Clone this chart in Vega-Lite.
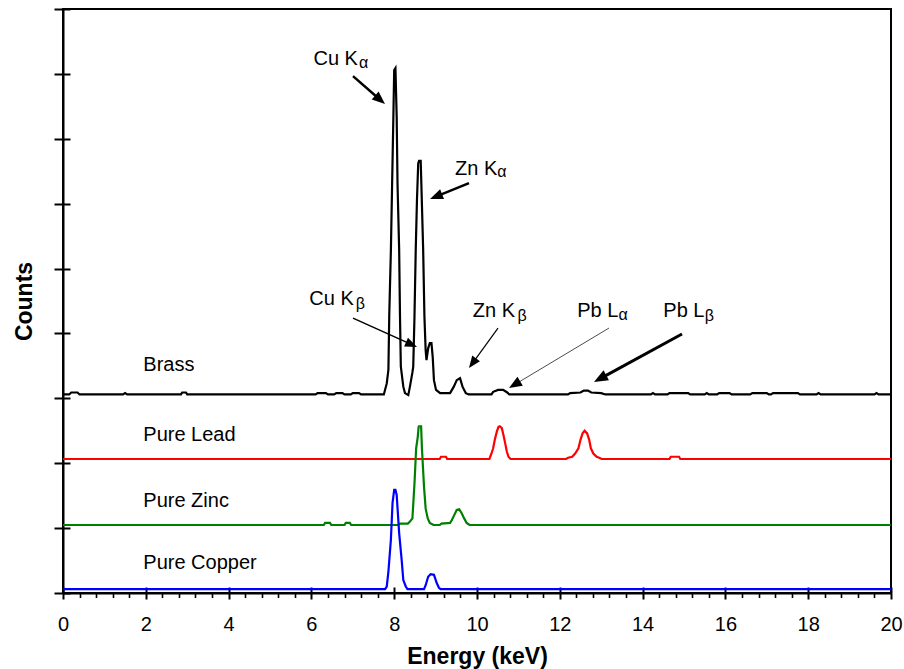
{
  "$schema": "https://vega.github.io/schema/vega-lite/v6.json",
  "width": 828,
  "height": 584,
  "autosize": {"type": "none"},
  "padding": {"left": 63, "top": 9, "right": 13, "bottom": 76},
  "background": "white",
  "config": {
    "view": {"stroke": "black", "strokeWidth": 2},
    "font": "Liberation Sans",
    "axis": {"grid": false, "domainColor": "black", "tickColor": "black", "labelColor": "black", "titleColor": "black", "labelFont": "Liberation Sans", "titleFont": "Liberation Sans"}
  },
  "resolve": {"axis": {"x": "independent", "y": "independent"}},
  "layer": [
    {
      "data": {"values": [
        {"series":"Brass","e":0,"c":3.06},{"series":"Brass","e":0.15,"c":3.06},{"series":"Brass","e":0.2,"c":3.09},{"series":"Brass","e":0.35,"c":3.09},{"series":"Brass","e":0.4,"c":3.06},
        {"series":"Brass","e":1.45,"c":3.06},{"series":"Brass","e":1.5,"c":3.08},{"series":"Brass","e":1.55,"c":3.06},
        {"series":"Brass","e":2.85,"c":3.06},{"series":"Brass","e":2.88,"c":3.09},{"series":"Brass","e":2.97,"c":3.09},{"series":"Brass","e":3.0,"c":3.06},
        {"series":"Brass","e":6.1,"c":3.06},{"series":"Brass","e":6.15,"c":3.08},{"series":"Brass","e":6.35,"c":3.08},{"series":"Brass","e":6.4,"c":3.06},
        {"series":"Brass","e":6.55,"c":3.06},{"series":"Brass","e":6.6,"c":3.08},{"series":"Brass","e":6.75,"c":3.08},{"series":"Brass","e":6.8,"c":3.06},
        {"series":"Brass","e":6.95,"c":3.06},{"series":"Brass","e":7.0,"c":3.08},{"series":"Brass","e":7.15,"c":3.08},{"series":"Brass","e":7.2,"c":3.06},
        {"series":"Brass","e":7.75,"c":3.06},{"series":"Brass","e":7.82,"c":3.23},{"series":"Brass","e":7.86,"c":3.44},{"series":"Brass","e":7.88,"c":4.26},
        {"series":"Brass","e":7.92,"c":5.28},{"series":"Brass","e":7.95,"c":6.31},{"series":"Brass","e":7.98,"c":7.34},{"series":"Brass","e":8.0,"c":8.06},
        {"series":"Brass","e":8.03,"c":8.09},{"series":"Brass","e":8.06,"c":7.34},{"series":"Brass","e":8.08,"c":6.31},{"series":"Brass","e":8.12,"c":5.28},
        {"series":"Brass","e":8.14,"c":4.26},{"series":"Brass","e":8.16,"c":3.49},{"series":"Brass","e":8.22,"c":3.18},{"series":"Brass","e":8.26,"c":3.08},
        {"series":"Brass","e":8.34,"c":3.05},{"series":"Brass","e":8.38,"c":3.18},{"series":"Brass","e":8.44,"c":3.4},{"series":"Brass","e":8.46,"c":3.49},
        {"series":"Brass","e":8.49,"c":4.26},{"series":"Brass","e":8.52,"c":5.28},{"series":"Brass","e":8.55,"c":6.06},{"series":"Brass","e":8.58,"c":6.62},
        {"series":"Brass","e":8.6,"c":6.66},{"series":"Brass","e":8.64,"c":6.66},{"series":"Brass","e":8.66,"c":6.21},{"series":"Brass","e":8.7,"c":5.28},
        {"series":"Brass","e":8.73,"c":4.26},{"series":"Brass","e":8.76,"c":3.74},{"series":"Brass","e":8.78,"c":3.59},{"series":"Brass","e":8.82,"c":3.77},
        {"series":"Brass","e":8.86,"c":3.85},{"series":"Brass","e":8.9,"c":3.85},{"series":"Brass","e":8.93,"c":3.64},{"series":"Brass","e":8.96,"c":3.28},
        {"series":"Brass","e":9.01,"c":3.13},{"series":"Brass","e":9.11,"c":3.08},{"series":"Brass","e":9.35,"c":3.08},{"series":"Brass","e":9.44,"c":3.18},
        {"series":"Brass","e":9.51,"c":3.28},{"series":"Brass","e":9.59,"c":3.31},{"series":"Brass","e":9.65,"c":3.18},{"series":"Brass","e":9.73,"c":3.08},
        {"series":"Brass","e":9.8,"c":3.06},{"series":"Brass","e":10.35,"c":3.06},{"series":"Brass","e":10.39,"c":3.1},{"series":"Brass","e":10.51,"c":3.13},
        {"series":"Brass","e":10.63,"c":3.13},{"series":"Brass","e":10.73,"c":3.09},{"series":"Brass","e":10.78,"c":3.06},
        {"series":"Brass","e":12.2,"c":3.06},{"series":"Brass","e":12.25,"c":3.08},{"series":"Brass","e":12.5,"c":3.09},{"series":"Brass","e":12.58,"c":3.12},
        {"series":"Brass","e":12.68,"c":3.12},{"series":"Brass","e":12.76,"c":3.09},{"series":"Brass","e":13.0,"c":3.08},{"series":"Brass","e":13.1,"c":3.06},
        {"series":"Brass","e":14.2,"c":3.06},{"series":"Brass","e":14.25,"c":3.08},{"series":"Brass","e":14.3,"c":3.06},
        {"series":"Brass","e":14.6,"c":3.06},{"series":"Brass","e":14.65,"c":3.08},{"series":"Brass","e":15.1,"c":3.08},{"series":"Brass","e":15.15,"c":3.06},
        {"series":"Brass","e":15.5,"c":3.06},{"series":"Brass","e":15.55,"c":3.08},{"series":"Brass","e":15.6,"c":3.06},
        {"series":"Brass","e":15.8,"c":3.06},{"series":"Brass","e":15.85,"c":3.08},{"series":"Brass","e":16.1,"c":3.08},{"series":"Brass","e":16.15,"c":3.06},
        {"series":"Brass","e":16.6,"c":3.06},{"series":"Brass","e":16.65,"c":3.08},{"series":"Brass","e":17.0,"c":3.08},{"series":"Brass","e":17.05,"c":3.06},
        {"series":"Brass","e":17.1,"c":3.06},{"series":"Brass","e":17.15,"c":3.08},{"series":"Brass","e":17.75,"c":3.08},{"series":"Brass","e":17.8,"c":3.06},
        {"series":"Brass","e":18.2,"c":3.06},{"series":"Brass","e":18.25,"c":3.08},{"series":"Brass","e":18.3,"c":3.06},
        {"series":"Brass","e":19.6,"c":3.06},{"series":"Brass","e":19.65,"c":3.08},{"series":"Brass","e":19.7,"c":3.06},{"series":"Brass","e":20,"c":3.06},

        {"series":"Pure Lead","e":0,"c":2.065},{"series":"Pure Lead","e":9.1,"c":2.065},{"series":"Pure Lead","e":9.13,"c":2.1},{"series":"Pure Lead","e":9.25,"c":2.1},
        {"series":"Pure Lead","e":9.28,"c":2.065},{"series":"Pure Lead","e":10.3,"c":2.065},{"series":"Pure Lead","e":10.35,"c":2.15},{"series":"Pure Lead","e":10.39,"c":2.23},
        {"series":"Pure Lead","e":10.43,"c":2.36},{"series":"Pure Lead","e":10.48,"c":2.49},{"series":"Pure Lead","e":10.52,"c":2.56},{"series":"Pure Lead","e":10.55,"c":2.57},
        {"series":"Pure Lead","e":10.6,"c":2.54},{"series":"Pure Lead","e":10.64,"c":2.43},{"series":"Pure Lead","e":10.68,"c":2.31},{"series":"Pure Lead","e":10.72,"c":2.18},
        {"series":"Pure Lead","e":10.76,"c":2.1},{"series":"Pure Lead","e":10.81,"c":2.065},{"series":"Pure Lead","e":12.15,"c":2.065},{"series":"Pure Lead","e":12.2,"c":2.085},
        {"series":"Pure Lead","e":12.3,"c":2.1},{"series":"Pure Lead","e":12.37,"c":2.15},{"series":"Pure Lead","e":12.45,"c":2.23},{"series":"Pure Lead","e":12.5,"c":2.36},
        {"series":"Pure Lead","e":12.55,"c":2.46},{"series":"Pure Lead","e":12.6,"c":2.5},{"series":"Pure Lead","e":12.66,"c":2.46},{"series":"Pure Lead","e":12.71,"c":2.36},
        {"series":"Pure Lead","e":12.75,"c":2.23},{"series":"Pure Lead","e":12.81,"c":2.15},{"series":"Pure Lead","e":12.89,"c":2.1},{"series":"Pure Lead","e":12.95,"c":2.085},
        {"series":"Pure Lead","e":13.01,"c":2.065},{"series":"Pure Lead","e":14.65,"c":2.065},{"series":"Pure Lead","e":14.68,"c":2.1},{"series":"Pure Lead","e":14.88,"c":2.1},
        {"series":"Pure Lead","e":14.91,"c":2.065},{"series":"Pure Lead","e":20,"c":2.065},

        {"series":"Pure Zinc","e":0,"c":1.048},{"series":"Pure Zinc","e":6.3,"c":1.048},{"series":"Pure Zinc","e":6.33,"c":1.08},{"series":"Pure Zinc","e":6.45,"c":1.08},
        {"series":"Pure Zinc","e":6.48,"c":1.048},{"series":"Pure Zinc","e":6.8,"c":1.048},{"series":"Pure Zinc","e":6.83,"c":1.08},{"series":"Pure Zinc","e":6.93,"c":1.08},
        {"series":"Pure Zinc","e":6.96,"c":1.048},{"series":"Pure Zinc","e":8.1,"c":1.048},{"series":"Pure Zinc","e":8.14,"c":1.07},{"series":"Pure Zinc","e":8.33,"c":1.07},
        {"series":"Pure Zinc","e":8.38,"c":1.1},{"series":"Pure Zinc","e":8.44,"c":1.15},{"series":"Pure Zinc","e":8.49,"c":1.69},{"series":"Pure Zinc","e":8.53,"c":2.23},
        {"series":"Pure Zinc","e":8.57,"c":2.41},{"series":"Pure Zinc","e":8.59,"c":2.56},{"series":"Pure Zinc","e":8.6,"c":2.57},{"series":"Pure Zinc","e":8.65,"c":2.57},
        {"series":"Pure Zinc","e":8.67,"c":2.23},{"series":"Pure Zinc","e":8.72,"c":1.64},{"series":"Pure Zinc","e":8.76,"c":1.3},{"series":"Pure Zinc","e":8.81,"c":1.15},
        {"series":"Pure Zinc","e":8.86,"c":1.08},{"series":"Pure Zinc","e":8.95,"c":1.048},{"series":"Pure Zinc","e":9.1,"c":1.048},{"series":"Pure Zinc","e":9.14,"c":1.07},
        {"series":"Pure Zinc","e":9.35,"c":1.08},{"series":"Pure Zinc","e":9.39,"c":1.12},{"series":"Pure Zinc","e":9.45,"c":1.2},{"series":"Pure Zinc","e":9.51,"c":1.28},
        {"series":"Pure Zinc","e":9.57,"c":1.29},{"series":"Pure Zinc","e":9.63,"c":1.23},{"series":"Pure Zinc","e":9.69,"c":1.15},{"series":"Pure Zinc","e":9.75,"c":1.08},
        {"series":"Pure Zinc","e":9.82,"c":1.048},{"series":"Pure Zinc","e":20,"c":1.048},

        {"series":"Pure Copper","e":0,"c":0.06},{"series":"Pure Copper","e":7.78,"c":0.06},{"series":"Pure Copper","e":7.82,"c":0.1},{"series":"Pure Copper","e":7.86,"c":0.33},
        {"series":"Pure Copper","e":7.92,"c":0.82},{"series":"Pure Copper","e":7.96,"c":1.39},{"series":"Pure Copper","e":8.0,"c":1.59},{"series":"Pure Copper","e":8.03,"c":1.59},
        {"series":"Pure Copper","e":8.06,"c":1.51},{"series":"Pure Copper","e":8.12,"c":0.92},{"series":"Pure Copper","e":8.18,"c":0.51},{"series":"Pure Copper","e":8.22,"c":0.2},
        {"series":"Pure Copper","e":8.28,"c":0.1},{"series":"Pure Copper","e":8.32,"c":0.06},{"series":"Pure Copper","e":8.72,"c":0.06},{"series":"Pure Copper","e":8.76,"c":0.12},
        {"series":"Pure Copper","e":8.82,"c":0.25},{"series":"Pure Copper","e":8.88,"c":0.29},{"series":"Pure Copper","e":8.96,"c":0.28},{"series":"Pure Copper","e":9.03,"c":0.15},
        {"series":"Pure Copper","e":9.08,"c":0.08},{"series":"Pure Copper","e":9.12,"c":0.06},{"series":"Pure Copper","e":20,"c":0.06}
      ]},
      "mark": {"type": "line", "strokeWidth": 2.2, "interpolate": "linear"},
      "encoding": {
        "x": {"field": "e", "type": "quantitative", "scale": {"domain": [0, 20], "nice": false},
          "axis": {"orient": "bottom", "values": [0,2,4,6,8,10,12,14,16,18,20], "tickSize": 6, "tickWidth": 2, "domainWidth": 2, "labelFontSize": 20, "labelPadding": 15, "labelFlush": false, "labelOverlap": false,
            "title": "Energy (keV)", "titleFontSize": 23, "titleFontWeight": "bold", "titlePadding": 11}},
        "y": {"field": "c", "type": "quantitative", "scale": {"domain": [0, 9], "nice": false},
          "axis": {"orient": "left", "values": [0,1,2,3,4,5,6,7,8,9], "tickSize": 9, "tickWidth": 2, "domainWidth": 2, "labels": false,
            "title": "Counts", "titleFontSize": 23, "titleFontWeight": "bold", "titlePadding": 17}},
        "color": {"field": "series", "type": "nominal",
          "scale": {"domain": ["Brass", "Pure Lead", "Pure Zinc", "Pure Copper"], "range": ["#000000", "#ff0000", "#008000", "#0000ff"]},
          "legend": null}
      }
    },
    {
      "data": {"values": [
        {"label": "Brass", "e": 1.94, "c": 3.425},
        {"label": "Pure Lead", "e": 1.94, "c": 2.342},
        {"label": "Pure Zinc", "e": 1.94, "c": 1.33},
        {"label": "Pure Copper", "e": 1.94, "c": 0.365}
      ]},
      "mark": {"type": "text", "align": "left", "baseline": "alphabetic", "fontSize": 20, "font": "Liberation Sans", "color": "black"},
      "encoding": {
        "x": {"field": "e", "type": "quantitative", "scale": {"domain": [0, 20], "nice": false},
          "axis": {"orient": "bottom", "values": [0,2,4,6,8,10,12,14,16,18,20], "tickSize": -6, "tickWidth": 2, "labels": false, "domain": false, "title": null}},
        "y": {"field": "c", "type": "quantitative", "scale": {"domain": [0, 9], "nice": false},
          "axis": {"orient": "left", "values": [0,1,2,3,4,5,6,7,8,9], "tickSize": -7, "tickWidth": 2, "labels": false, "domain": false, "title": null}},
        "text": {"field": "label"}
      }
    },
    {
      "data": {"values": [
        {"label": "Cu K", "e": 6.05, "c": 8.136},
        {"label": "Zn K", "e": 9.47, "c": 6.44},
        {"label": "Cu K", "e": 5.95, "c": 4.44},
        {"label": "Zn K", "e": 9.9, "c": 4.26},
        {"label": "Pb L", "e": 12.42, "c": 4.26},
        {"label": "Pb L", "e": 14.5, "c": 4.26}
      ]},
      "mark": {"type": "text", "align": "left", "baseline": "alphabetic", "fontSize": 20, "font": "Liberation Sans", "color": "black"},
      "encoding": {
        "x": {"field": "e", "type": "quantitative", "scale": {"domain": [0, 20], "nice": false},
          "axis": {"orient": "bottom", "values": [0.4,0.8,1.2,1.6,2.4,2.8,3.2,3.6,4.4,4.8,5.2,5.6,6.4,6.8,7.2,7.6,8.4,8.8,9.2,9.6,10.4,10.8,11.2,11.6,12.4,12.8,13.2,13.6,14.4,14.8,15.2,15.6,16.4,16.8,17.2,17.6,18.4,18.8,19.2,19.6], "tickSize": 4.5, "tickWidth": 1.6, "labels": false, "domain": false, "title": null}},
        "y": {"field": "c", "type": "quantitative", "scale": {"domain": [0, 9], "nice": false}, "axis": null},
        "text": {"field": "label"}
      }
    },
    {
      "data": {"values": [
        {"label": "α", "e": 7.15, "c": 8.085},
        {"label": "α", "e": 10.49, "c": 6.41},
        {"label": "β", "e": 7.07, "c": 4.38},
        {"label": "β", "e": 10.98, "c": 4.185},
        {"label": "α", "e": 13.42, "c": 4.206},
        {"label": "β", "e": 15.5, "c": 4.19}
      ]},
      "mark": {"type": "text", "align": "left", "baseline": "alphabetic", "fontSize": 16, "font": "Liberation Sans", "color": "black"},
      "encoding": {
        "x": {"field": "e", "type": "quantitative", "scale": {"domain": [0, 20], "nice": false}, "axis": null},
        "y": {"field": "c", "type": "quantitative", "scale": {"domain": [0, 9], "nice": false}, "axis": null},
        "text": {"field": "label"}
      }
    },
    {
      "data": {"values": [{"e": 7.005, "c": 7.966, "e2": 7.686, "c2": 7.586, "te": 7.778, "tc": 7.535}]},
      "layer": [
        {"mark": {"type": "rule", "strokeWidth": 2.5, "color": "black"},
         "encoding": {"x": {"field": "e", "type": "quantitative", "scale": {"domain": [0, 20], "nice": false}, "axis": null},
                      "y": {"field": "c", "type": "quantitative", "scale": {"domain": [0, 9], "nice": false}, "axis": null},
                      "x2": {"field": "e2"}, "y2": {"field": "c2"}}},
        {"mark": {"type": "point", "shape": "M0,0L0.8,2L-0.8,2Z", "angle": 131, "size": 169, "filled": true, "color": "black", "opacity": 1, "strokeWidth": 0},
         "encoding": {"x": {"field": "te", "type": "quantitative", "scale": {"domain": [0, 20], "nice": false}, "axis": null},
                      "y": {"field": "tc", "type": "quantitative", "scale": {"domain": [0, 9], "nice": false}, "axis": null}}}
      ]
    },
    {
      "data": {"values": [{"e": 9.807, "c": 6.317, "e2": 8.976, "c2": 6.1, "te": 8.865, "tc": 6.071}]},
      "layer": [
        {"mark": {"type": "rule", "strokeWidth": 2.5, "color": "black"},
         "encoding": {"x": {"field": "e", "type": "quantitative", "scale": {"domain": [0, 20], "nice": false}, "axis": null},
                      "y": {"field": "c", "type": "quantitative", "scale": {"domain": [0, 9], "nice": false}, "axis": null},
                      "x2": {"field": "e2"}, "y2": {"field": "c2"}}},
        {"mark": {"type": "point", "shape": "M0,0L0.8,2L-0.8,2Z", "angle": 248, "size": 169, "filled": true, "color": "black", "opacity": 1, "strokeWidth": 0},
         "encoding": {"x": {"field": "te", "type": "quantitative", "scale": {"domain": [0, 20], "nice": false}, "axis": null},
                      "y": {"field": "tc", "type": "quantitative", "scale": {"domain": [0, 9], "nice": false}, "axis": null}}}
      ]
    },
    {
      "data": {"values": [{"e": 7.005, "c": 4.237, "e2": 8.44, "c2": 3.823, "te": 8.551, "tc": 3.79}]},
      "layer": [
        {"mark": {"type": "rule", "strokeWidth": 1.5, "color": "black"},
         "encoding": {"x": {"field": "e", "type": "quantitative", "scale": {"domain": [0, 20], "nice": false}, "axis": null},
                      "y": {"field": "c", "type": "quantitative", "scale": {"domain": [0, 9], "nice": false}, "axis": null},
                      "x2": {"field": "e2"}, "y2": {"field": "c2"}}},
        {"mark": {"type": "point", "shape": "M0,0L0.8,2L-0.8,2Z", "angle": 114, "size": 144, "filled": true, "color": "black", "opacity": 1, "strokeWidth": 0},
         "encoding": {"x": {"field": "te", "type": "quantitative", "scale": {"domain": [0, 20], "nice": false}, "axis": null},
                      "y": {"field": "tc", "type": "quantitative", "scale": {"domain": [0, 9], "nice": false}, "axis": null}}}
      ]
    },
    {
      "data": {"values": [{"e": 10.507, "c": 4.083, "e2": 9.877, "c2": 3.528, "te": 9.807, "tc": 3.467}]},
      "layer": [
        {"mark": {"type": "rule", "strokeWidth": 1.2, "color": "black"},
         "encoding": {"x": {"field": "e", "type": "quantitative", "scale": {"domain": [0, 20], "nice": false}, "axis": null},
                      "y": {"field": "c", "type": "quantitative", "scale": {"domain": [0, 9], "nice": false}, "axis": null},
                      "x2": {"field": "e2"}, "y2": {"field": "c2"}}},
        {"mark": {"type": "point", "shape": "M0,0L0.8,2L-0.8,2Z", "angle": 216, "size": 144, "filled": true, "color": "black", "opacity": 1, "strokeWidth": 0},
         "encoding": {"x": {"field": "te", "type": "quantitative", "scale": {"domain": [0, 20], "nice": false}, "axis": null},
                      "y": {"field": "tc", "type": "quantitative", "scale": {"domain": [0, 9], "nice": false}, "axis": null}}}
      ]
    },
    {
      "data": {"values": [{"e": 13.188, "c": 4.083, "e2": 10.877, "c2": 3.199, "te": 10.773, "tc": 3.159}]},
      "layer": [
        {"mark": {"type": "rule", "strokeWidth": 0.7, "color": "black"},
         "encoding": {"x": {"field": "e", "type": "quantitative", "scale": {"domain": [0, 20], "nice": false}, "axis": null},
                      "y": {"field": "c", "type": "quantitative", "scale": {"domain": [0, 9], "nice": false}, "axis": null},
                      "x2": {"field": "e2"}, "y2": {"field": "c2"}}},
        {"mark": {"type": "point", "shape": "M0,0L0.8,2L-0.8,2Z", "angle": 239, "size": 169, "filled": true, "color": "black", "opacity": 1, "strokeWidth": 0},
         "encoding": {"x": {"field": "te", "type": "quantitative", "scale": {"domain": [0, 20], "nice": false}, "axis": null},
                      "y": {"field": "tc", "type": "quantitative", "scale": {"domain": [0, 9], "nice": false}, "axis": null}}}
      ]
    },
    {
      "data": {"values": [{"e": 14.952, "c": 3.991, "e2": 12.932, "c2": 3.288, "te": 12.826, "tc": 3.251}]},
      "layer": [
        {"mark": {"type": "rule", "strokeWidth": 3, "color": "black"},
         "encoding": {"x": {"field": "e", "type": "quantitative", "scale": {"domain": [0, 20], "nice": false}, "axis": null},
                      "y": {"field": "c", "type": "quantitative", "scale": {"domain": [0, 9], "nice": false}, "axis": null},
                      "x2": {"field": "e2"}, "y2": {"field": "c2"}}},
        {"mark": {"type": "point", "shape": "M0,0L0.8,2L-0.8,2Z", "angle": 241, "size": 196, "filled": true, "color": "black", "opacity": 1, "strokeWidth": 0},
         "encoding": {"x": {"field": "te", "type": "quantitative", "scale": {"domain": [0, 20], "nice": false}, "axis": null},
                      "y": {"field": "tc", "type": "quantitative", "scale": {"domain": [0, 9], "nice": false}, "axis": null}}}
      ]
    }
  ]
}
